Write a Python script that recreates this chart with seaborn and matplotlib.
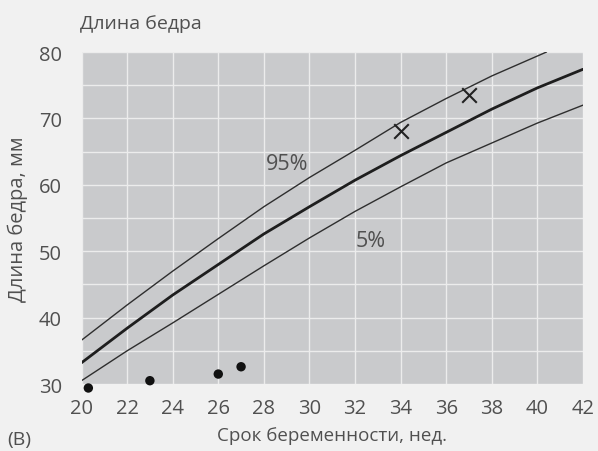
import matplotlib
matplotlib.use("Agg")
import matplotlib.pyplot as plt
from matplotlib.ticker import MultipleLocator
import seaborn as sns
import pandas as pd

# Percentile curves of femur length
weeks = [20, 22, 24, 26, 28, 30, 32, 34, 36, 38, 40, 42]
fl_mean = [33.2, 38.4, 43.4, 48.0, 52.6, 56.7, 60.7, 64.4, 67.9, 71.4, 74.6, 77.4]
fl_p5 = [30.5, 35.0, 39.2, 43.5, 47.8, 52.0, 56.0, 59.7, 63.3, 66.3, 69.3, 72.0]
weeks_p95 = [20, 22, 24, 26, 28, 30, 32, 34, 36, 38, 40, 40.4]
fl_p95 = [36.6, 41.9, 47.0, 51.9, 56.7, 61.1, 65.2, 69.4, 73.0, 76.4, 79.4, 80.0]

# Measurements
dot_weeks = [20.3, 23, 26, 27]
dot_fl = [29.4, 30.5, 31.5, 32.6]
cross_weeks = [34, 37]
cross_fl = [68.1, 73.6]

xticks = list(range(20, 43, 2))
yticks = [30, 40, 50, 60, 70, 80]

sns.set_theme(style="darkgrid", rc={
    "axes.facecolor": "#c9cacc",
    "figure.facecolor": "#f1f1f1",
    "grid.color": "#ececec",
    "grid.linewidth": 1.0,
})
plt.rcParams["font.family"] = ["Open Sans", "DejaVu Sans"]
text_col = "#505050"

fig = plt.figure(figsize=(5.98, 4.52), dpi=100)
ax = fig.add_axes([0.1363, 0.1482, 0.8386, 0.7345])

curves = pd.DataFrame({"week": weeks, "mean": fl_mean, "p5": fl_p5})
p95 = pd.DataFrame({"week": weeks_p95, "p95": fl_p95})

sns.lineplot(data=p95, x="week", y="p95", ax=ax, color="#2e2e2e", linewidth=1.0)
sns.lineplot(data=curves, x="week", y="mean", ax=ax, color="#1e1e1e", linewidth=2.0)
sns.lineplot(data=curves, x="week", y="p5", ax=ax, color="#2e2e2e", linewidth=1.0)

sns.scatterplot(x=dot_weeks, y=dot_fl, ax=ax, color="#111111", s=46,
                edgecolor="none", clip_on=False, zorder=5)
sns.scatterplot(x=cross_weeks, y=cross_fl, ax=ax, color="#222222", marker="x",
                s=110, linewidth=1.5, clip_on=False, zorder=5)

ax.set_xlim(20, 42)
ax.set_ylim(30, 80)
ax.set_xticks(xticks)
ax.set_yticks(yticks)
ax.yaxis.set_minor_locator(MultipleLocator(5))
ax.grid(True, which="both", axis="y", color="#ececec", linewidth=1.0)
ax.grid(True, which="major", axis="x", color="#ececec", linewidth=1.0)
ax.tick_params(axis="both", which="both", length=0, labelsize=14.5, colors=text_col)
ax.tick_params(axis="x", pad=10)
ax.tick_params(axis="y", pad=14)
for s in ax.spines.values():
    s.set_visible(False)

ax.set_xlabel("Срок беременности, нед.", fontsize=13.5, color=text_col, labelpad=6)
ax.set_ylabel("Длина бедра, мм", fontsize=14.5, color=text_col, labelpad=8)

ax.text(29, 63.2, "95%", fontsize=15.5, color=text_col, ha="center", va="center")
ax.text(32.7, 51.6, "5%", fontsize=15.5, color=text_col, ha="center", va="center")

fig.text(80 / 598, 1 - 24 / 452, "Длина бедра", fontsize=14, color=text_col,
         ha="left", va="center")
fig.text(7 / 598, 1 - 440 / 452, "(В)", fontsize=14, color=text_col,
         ha="left", va="center")

fig.savefig("out.png", dpi=100)
